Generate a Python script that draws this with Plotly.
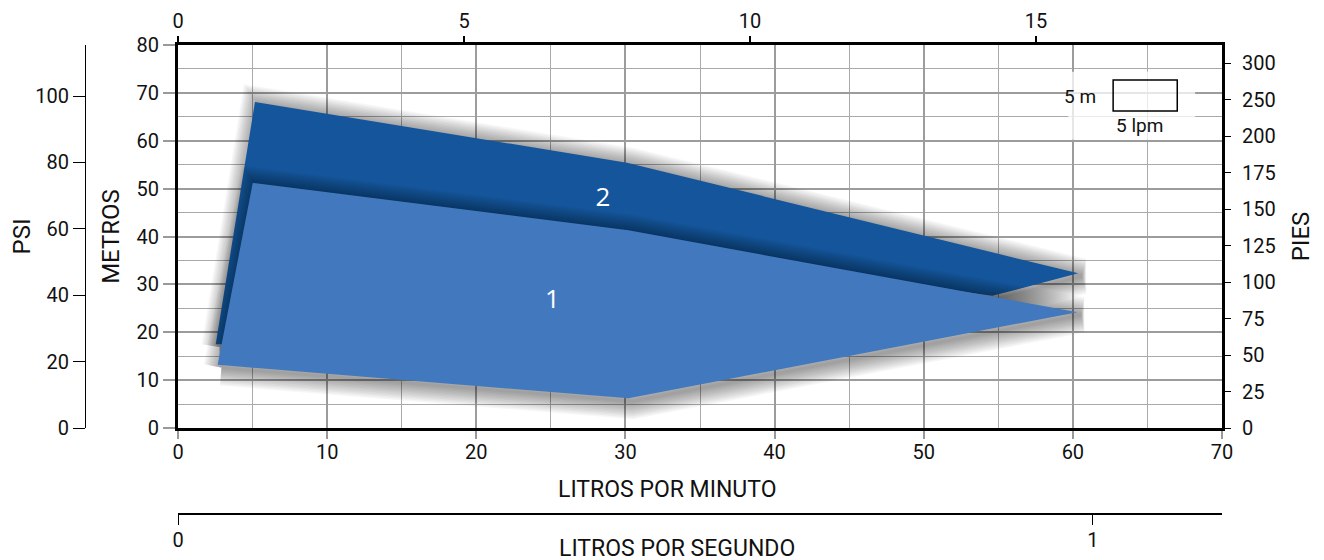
import plotly.graph_objects as go

# curve envelopes (litros por minuto vs metros)
pump2_lpm = [2.53, 5.16, 30.1, 60.35, 54.6, 30.2, 3.3]
pump2_m = [17.5, 68.1, 55.4, 32.3, 27.6, 38.0, 17.5]

pump1_lpm = [2.66, 5.01, 30.2, 60.3, 30.2]
pump1_m = [13.2, 51.2, 41.3, 24.2, 6.2]

labels = ["2", "1"]
label_lpm = [28.5, 25.1]
label_m = [47.8, 26.5]

lpm_ticks = [0, 10, 20, 30, 40, 50, 60, 70]
metros_ticks = [0, 10, 20, 30, 40, 50, 60, 70, 80]
gpm_ticks = [0, 5, 10, 15]
pies_ticks = [0, 25, 50, 75, 100, 125, 150, 175, 200, 225, 250]
pies_text = ["0", "25", "50", "75", "100", "125", "150", "175", "200", "250", "300"]
psi_ticks = [0, 20, 40, 60, 80, 100]
lps_ticks = [0, 1]

DARK = "#14559b"
LIGHT = "#4279be"
FONT = "Roboto, sans-serif"


def closed(xs, ys):
    return xs + xs[:1], ys + ys[:1]


def shadow(xs, ys):
    # soft drop shadow: stacked translucent outlines, slightly offset down-right
    cx, cy = closed(xs, ys)
    cx = [v + 0.25 for v in cx]
    cy = [v - 0.6 for v in cy]
    traces = []
    for w in range(36, 0, -3):
        traces.append(go.Scatter(
            x=cx, y=cy, mode="lines",
            line=dict(color="rgba(0,0,0,0.035)", width=w),
            hoverinfo="skip", showlegend=False
        ))
    return traces


fig = go.Figure()

for t in shadow(pump2_lpm, pump2_m):
    fig.add_trace(t)
x2, y2 = closed(pump2_lpm, pump2_m)
fig.add_trace(go.Scatter(x=x2, y=y2, fill="toself", fillcolor=DARK,
                         mode="lines", line=dict(width=0, color=DARK),
                         name="2", showlegend=False))

for t in shadow(pump1_lpm, pump1_m):
    fig.add_trace(t)
x1, y1 = closed(pump1_lpm, pump1_m)
fig.add_trace(go.Scatter(x=x1, y=y1, fill="toself", fillcolor=LIGHT,
                         mode="lines", line=dict(width=0, color=LIGHT),
                         name="1", showlegend=False))

fig.add_trace(go.Scatter(x=label_lpm, y=label_m, mode="text", text=labels,
                         textfont=dict(color="white", size=26, family="Open Sans"),
                         showlegend=False, hoverinfo="skip"))

# dummy traces so the extra axes get drawn
fig.add_trace(go.Scatter(x=[], y=[], xaxis="x2", yaxis="y", showlegend=False))
fig.add_trace(go.Scatter(x=[], y=[], xaxis="x3", yaxis="y", showlegend=False))
fig.add_trace(go.Scatter(x=[], y=[], xaxis="x", yaxis="y2", showlegend=False))
fig.add_trace(go.Scatter(x=[], y=[], xaxis="x", yaxis="y3", showlegend=False))

# page body has an 8px margin, so margins are shifted by 8
dx0, dx1 = 93 / 1147, 1137 / 1147
dy0 = 86 / 469

fig.update_layout(
    width=1324, height=560,
    margin=dict(l=77, r=100, t=37, b=54),
    plot_bgcolor="rgba(0,0,0,0)", paper_bgcolor="white",
    font=dict(family=FONT, size=20, color="#111"),
    xaxis=dict(
        domain=[dx0, dx1], range=[0, 70], anchor="y", automargin=False,
        tickvals=lpm_ticks, ticks="outside", ticklen=8, tickwidth=2, tickcolor="#999",
        ticklabelstandoff=-4,
        showline=True, linecolor="black", linewidth=3,
        showgrid=True, gridcolor="#9c9c9c", gridwidth=2,
        minor=dict(dtick=5, showgrid=True, gridcolor="#aaaaaa", gridwidth=1),
        zeroline=False,
    ),
    xaxis2=dict(
        overlaying="x", side="top", anchor="y", range=[0, 18.25], automargin=False,
        tickvals=gpm_ticks, ticks="outside", ticklen=6, tickwidth=2, tickcolor="black",
        showline=True, linecolor="black", linewidth=3, showgrid=False, zeroline=False,
    ),
    xaxis3=dict(
        overlaying="x", side="bottom", anchor="free", position=0, range=[0, 1.141],
        automargin=False,
        tickvals=lps_ticks, ticks="outside", ticklen=10, tickwidth=1, tickcolor="black",
        ticklabelstandoff=-2,
        showline=True, linecolor="black", linewidth=2, showgrid=False, zeroline=False,
    ),
    yaxis=dict(
        domain=[dy0, 1], range=[0, 80], anchor="x", automargin=False,
        tickvals=metros_ticks, ticks="outside", ticklen=12, tickwidth=2, tickcolor="#999",
        showline=True, linecolor="black", linewidth=3,
        showgrid=True, gridcolor="#9c9c9c", gridwidth=2,
        minor=dict(dtick=5, showgrid=True, gridcolor="#aaaaaa", gridwidth=1),
        zeroline=False,
        title=dict(text="METROS", standoff=11),
    ),
    yaxis2=dict(
        overlaying="y", side="right", anchor="x", range=[0, 262.5], automargin=False,
        tickvals=pies_ticks, ticktext=pies_text,
        ticks="outside", ticklen=6, tickwidth=1, tickcolor="black",
        ticklabelstandoff=7,
        showline=True, linecolor="black", linewidth=3, showgrid=False, zeroline=False,
        title=dict(text="PIES", standoff=18),
    ),
    yaxis3=dict(
        overlaying="y", side="left", anchor="free", position=0, range=[0, 115.4],
        automargin=False,
        tickvals=psi_ticks, ticks="outside", ticklen=12, tickwidth=1, tickcolor="black",
        showline=True, linecolor="black", linewidth=1, showgrid=False, zeroline=False,
        title=dict(text="PSI", standoff=12),
    ),
    annotations=[
        dict(text="LITROS POR MINUTO", xref="paper", yref="paper", x=0.508, y=0.0512,
             yanchor="middle", showarrow=False, font=dict(size=23)),
        dict(text="LITROS POR SEGUNDO", xref="paper", yref="paper", x=0.516, y=-0.0725,
             yanchor="middle", showarrow=False, font=dict(size=23)),
        dict(text="5 m", x=61.7, y=69.2, xref="x", yref="y", xanchor="right",
             showarrow=False, font=dict(size=19)),
        dict(text="5 lpm", x=64.5, y=63.1, xref="x", yref="y",
             showarrow=False, font=dict(size=19)),
    ],
    shapes=[
        dict(type="rect", xref="x", yref="y", x0=59.7, x1=68.2, y0=60.2, y1=74.4,
             fillcolor="rgba(255,255,255,0.75)", line=dict(width=0), layer="above"),
        dict(type="rect", xref="x", yref="y", x0=62.7, x1=67.0, y0=66.2, y1=72.7,
             fillcolor="rgba(0,0,0,0)", line=dict(color="black", width=1.5), layer="above"),
    ],
)

fig.write_html("out.html")
